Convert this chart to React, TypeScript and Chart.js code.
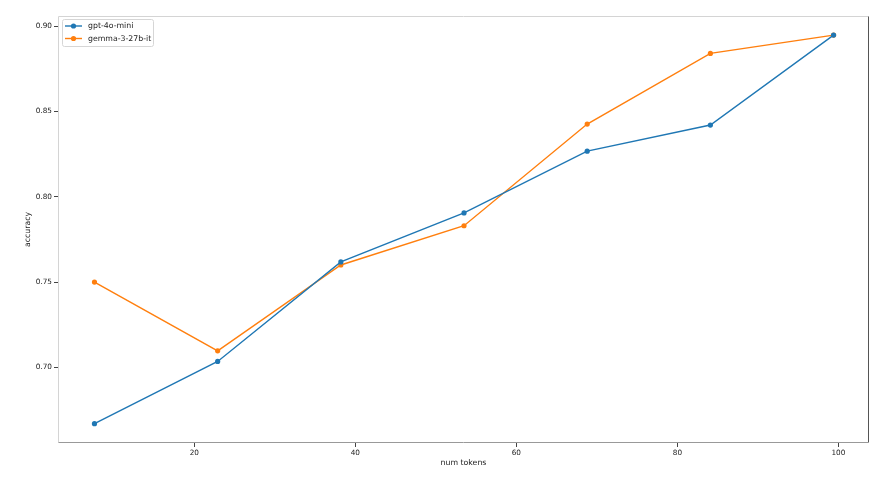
import React, { useEffect, useRef } from "react";
import { Chart, registerables } from "chart.js";

Chart.register(...registerables);

const numTokens = [7.6, 22.9, 38.2, 53.5, 68.8, 84.1, 99.4];
const gptAccuracy = [0.667, 0.7035, 0.7618, 0.7905, 0.8267, 0.842, 0.8947];
const gemmaAccuracy = [0.75, 0.7097, 0.76, 0.783, 0.8426, 0.884, 0.8947];
const seriesNames = ["gpt-4o-mini", "gemma-3-27b-it"];
const seriesColors = ["#1f77b4", "#ff7f0e"];
const xTicks = [20, 40, 60, 80, 100];
const yTicks = [0.7, 0.75, 0.8, 0.85, 0.9];

const FONT = "'DejaVu Sans', sans-serif";

const framePlugin = {
  id: "frame",
  afterDatasetsDraw(chart: any) {
    const { ctx, chartArea: a } = chart;
    ctx.save();
    ctx.lineWidth = 1;
    const L = Math.round(a.left) + 0.5;
    const R = Math.round(a.right) - 0.5;
    const T = Math.round(a.top) + 0.5;
    const B = Math.round(a.bottom) - 0.5;
    ctx.strokeStyle = "#d4d4d4";
    ctx.beginPath();
    ctx.moveTo(L, B);
    ctx.lineTo(L, T);
    ctx.lineTo(R, T);
    ctx.stroke();
    ctx.strokeStyle = "#555";
    ctx.beginPath();
    ctx.moveTo(R, T);
    ctx.lineTo(R, B);
    ctx.stroke();
    ctx.strokeStyle = "#999";
    ctx.beginPath();
    ctx.moveTo(L, B);
    ctx.lineTo(R, B);
    ctx.stroke();
    ctx.restore();
  },
};

const legendPlugin = {
  id: "mplLegend",
  afterDraw(chart: any) {
    const { ctx, chartArea: a } = chart;
    const x0 = a.left + 4;
    const y0 = a.top + 3;
    const w = 91;
    const h = 27;
    ctx.save();
    ctx.fillStyle = "rgba(255,255,255,0.85)";
    ctx.strokeStyle = "#d6d6d6";
    ctx.lineWidth = 1;
    ctx.beginPath();
    (ctx as any).roundRect(x0 + 0.5, y0 + 0.5, w, h, 2);
    ctx.fill();
    ctx.stroke();
    ctx.font = `7.8px ${FONT}`;
    ctx.textBaseline = "middle";
    ctx.textAlign = "left";
    seriesNames.forEach((name, i) => {
      const cy = y0 + 7 + i * 12.5;
      ctx.strokeStyle = seriesColors[i];
      ctx.lineWidth = 1.4;
      ctx.beginPath();
      ctx.moveTo(x0 + 3, cy);
      ctx.lineTo(x0 + 20, cy);
      ctx.stroke();
      ctx.fillStyle = seriesColors[i];
      ctx.beginPath();
      ctx.arc(x0 + 11.5, cy, 2.6, 0, Math.PI * 2);
      ctx.fill();
      ctx.fillStyle = "#222";
      ctx.fillText(name, x0 + 26, cy);
    });
    ctx.restore();
  },
};

export default function App() {
  const ref = useRef<HTMLCanvasElement>(null);
  useEffect(() => {
    if (!ref.current) return;
    const mk = (vals: number[]) => numTokens.map((x, i) => ({ x, y: vals[i] }));
    const chart = new Chart(ref.current, {
      type: "line",
      data: {
        datasets: [
          {
            label: seriesNames[0],
            data: mk(gptAccuracy),
            borderColor: seriesColors[0],
            backgroundColor: seriesColors[0],
            borderWidth: 1.4,
            pointRadius: 2.6,
            pointBorderWidth: 0,
            tension: 0,
          },
          {
            label: seriesNames[1],
            data: mk(gemmaAccuracy),
            borderColor: seriesColors[1],
            backgroundColor: seriesColors[1],
            borderWidth: 1.4,
            pointRadius: 2.6,
            pointBorderWidth: 0,
            tension: 0,
          },
        ],
      },
      options: {
        animation: false,
        responsive: false,
        layout: { padding: { left: 0, top: 16, right: 22, bottom: 0 } },
        plugins: {
          legend: { display: false },
          tooltip: { enabled: false },
        },
        scales: {
          x: {
            type: "linear",
            min: 3.07,
            max: 103.8,
            afterBuildTicks: (s: any) => {
              s.ticks = xTicks.map((v) => ({ value: v }));
            },
            afterFit: (s: any) => {
              s.height = 34;
            },
            grid: { drawOnChartArea: false, tickLength: 4, color: "#444", lineWidth: 1 },
            border: { display: false },
            ticks: {
              padding: 2,
              color: "#222",
              font: { family: FONT, size: 7.3 },
              maxRotation: 0,
              callback: (v: any) => String(v),
            },
            title: {
              display: true,
              text: "num tokens",
              color: "#222",
              font: { family: FONT, size: 7.8 },
              padding: { top: 0, bottom: 9.3 },
            },
          },
          y: {
            type: "linear",
            min: 0.6557,
            max: 0.9059,
            afterBuildTicks: (s: any) => {
              s.ticks = yTicks.map((v) => ({ value: v }));
            },
            afterFit: (s: any) => {
              s.width = 58;
            },
            grid: { drawOnChartArea: false, tickLength: 4, color: "#444", lineWidth: 1 },
            border: { display: false },
            ticks: {
              padding: 2,
              color: "#222",
              font: { family: FONT, size: 7.3 },
              callback: (v: any) => Number(v).toFixed(2),
            },
            title: {
              display: true,
              text: "accuracy",
              color: "#222",
              font: { family: FONT, size: 7.8 },
              padding: { top: 23.3, bottom: 0 },
            },
          },
        },
      },
      plugins: [framePlugin, legendPlugin],
    });
    return () => chart.destroy();
  }, []);
  return (
    <div style={{ position: "fixed", left: 0, top: 0, width: 891, height: 477, background: "#fff" }}>
      <canvas ref={ref} width={891} height={477} style={{ display: "block" }} />
    </div>
  );
}
